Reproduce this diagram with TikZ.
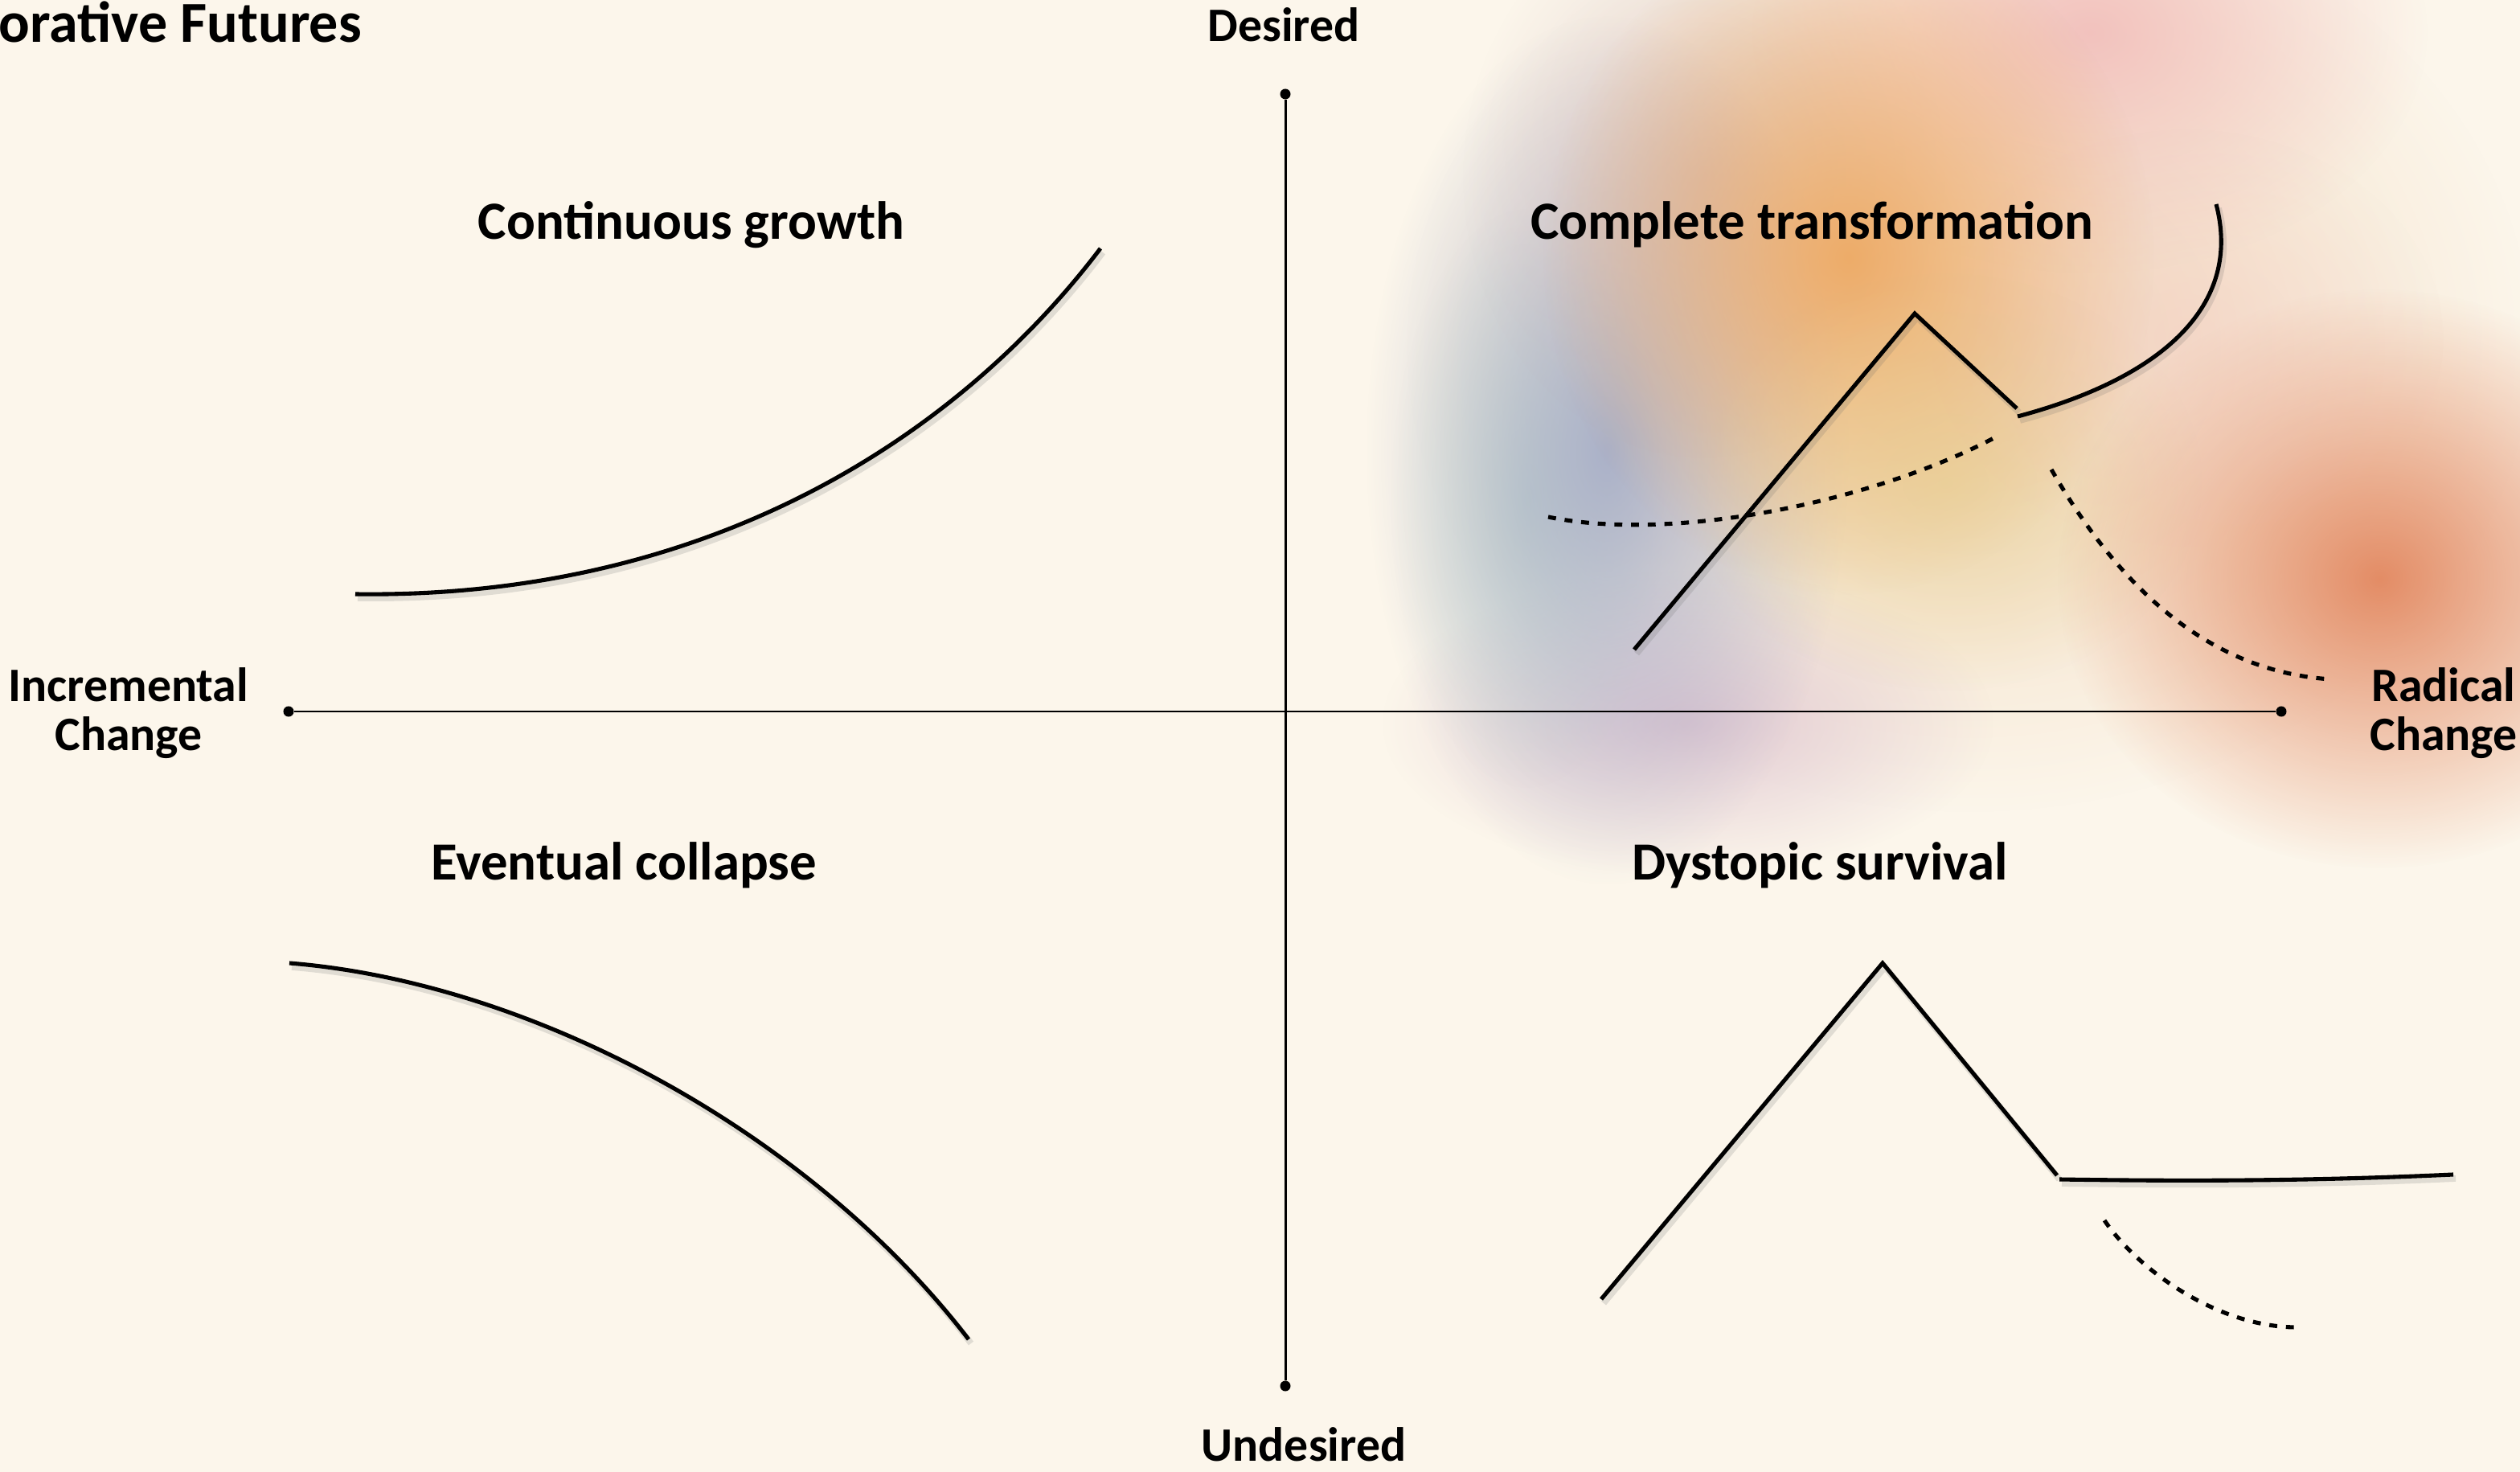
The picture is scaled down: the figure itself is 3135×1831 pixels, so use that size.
\documentclass[tikz,border=0pt]{standalone}
\usepackage{fontspec}
\setmainfont{Carlito}
\usetikzlibrary{fadings}
\definecolor{bg}{RGB}{252,246,235}
\definecolor{bpeach}{RGB}{240,212,180}
\definecolor{bblue}{RGB}{160,168,198}
\definecolor{bgreen}{RGB}{200,220,205}
\definecolor{bmauve}{RGB}{205,180,185}
\definecolor{borange}{RGB}{238,170,100}
\definecolor{byellow}{RGB}{230,205,140}
\definecolor{bpink}{RGB}{242,192,188}
\definecolor{bred}{RGB}{226,135,95}
\definecolor{blilac}{RGB}{222,196,208}
\tikzfading[name=blobfade, inner color=transparent!0, outer color=transparent!100]
\begin{document}
\begin{tikzpicture}[x=0.01cm,y=-0.01cm,
  lbl/.style={font=\fontsize{17}{17.4}\selectfont\bfseries, inner sep=0, align=center},
  qtitle/.style={font=\fontsize{19}{22}\selectfont\bfseries, inner sep=0},
  shadowed/.style={preaction={draw, black!60, opacity=0.18, line width=2.2pt, transform canvas={shift={(3,5)}}}},
  curve/.style={line width=1.45pt, shadowed},
  dashcurve/.style={line width=1.45pt, dash pattern=on 2.8pt off 3.1pt},
  axisline/.style={line width=0.85pt},
  axisdot/.style={circle, fill=black, inner sep=0pt, minimum size=3.7pt},
  blob/.style={path fading=blobfade}]
\useasboundingbox (0,0) rectangle (3135,1831);
\fill[bg] (0,0) rectangle (3135,1831);
% colour cloud
\fill[blob, bpeach, fill opacity=0.9] (2450,430) ellipse (700 and 580);
\fill[blob, blilac, fill opacity=0.9] (2100,900) ellipse (380 and 190);
\fill[blob, bgreen, fill opacity=0.8] (1900,620) ellipse (170 and 360);
\fill[blob, bblue, fill opacity=0.85] (2000,560) ellipse (300 and 540);
\fill[blob, bmauve, fill opacity=0.6] (2120,220) ellipse (300 and 350);
\fill[blob, bpink, fill opacity=0.95] (2600,40) ellipse (420 and 300);
\fill[blob, borange, fill opacity=0.95] (2300,320) ellipse (380 and 420);
\fill[blob, byellow, fill opacity=0.6] (2420,600) ellipse (320 and 260);
\fill[blob, bred, fill opacity=0.95] (2960,720) ellipse (400 and 360);
\fill[blob, bpink, fill opacity=0.35] (2720,420) ellipse (320 and 260);
% axes
\node[axisdot] (top) at (1599,117) {};
\node[axisdot] (bot) at (1599,1724) {};
\node[axisdot] (left) at (359,885) {};
\node[axisdot] (right) at (2838,885) {};
\draw[axisline] (top) -- (bot);
\draw[axisline] (left) -- (right);
% labels
\node[anchor=base west, font=\fontsize{20.5}{24}\selectfont\bfseries, inner sep=0] (title) at (-2,53) {orative Futures};
\node[lbl, anchor=base] (desired) at (1597,52) {Desired};
\node[lbl, anchor=base] (undesired) at (1622,1817) {Undesired};
\node[lbl, anchor=base] (incr) at (160,934) {Incremental\\Change};
\node[lbl, anchor=base] (radical) at (3040,934) {Radical\\Change};
\node[qtitle, anchor=base] (cg) at (860,298) {Continuous growth};
\node[qtitle, anchor=base] (ct) at (2254,298) {Complete transformation};
\node[qtitle, anchor=base] (ec) at (776,1094) {Eventual collapse};
\node[qtitle, anchor=base] (ds) at (2264,1094) {Dystopic survival};
% continuous growth
\coordinate (cg1) at (442,739);
\coordinate (cg2) at (1369,309);
\draw[curve] (cg1) .. controls (880,745) and (1190,545) .. (cg2);
% eventual collapse
\coordinate (ec1) at (360,1198);
\coordinate (ec2) at (1205,1666);
\draw[curve] (ec1) .. controls (660,1222) and (1005,1406) .. (ec2);
% complete transformation
\coordinate (ct1) at (2033,808);
\coordinate (ct2) at (2382,390);
\coordinate (ct3) at (2509,508);
\coordinate (ct4) at (2510,518);
\coordinate (ct5) at (2757,254);
\draw[curve] (ct1) -- (ct2) -- (ct3);
\draw[curve] (ct4) .. controls (2690,470) and (2790,380) .. (ct5);
\coordinate (cd1) at (1926,643);
\coordinate (cd2) at (2484,543);
\draw[dashcurve] (cd1) .. controls (2080,675) and (2330,625) .. (cd2);
\coordinate (cd3) at (2552,584);
\coordinate (cd4) at (2900,845);
\draw[dashcurve] (cd3) .. controls (2630,720) and (2740,835) .. (cd4);
% dystopic survival
\coordinate (ds1) at (1992,1616);
\coordinate (ds2) at (2342,1198);
\coordinate (ds3) at (2559,1462);
\coordinate (ds4) at (2562,1467);
\coordinate (ds5) at (3052,1461);
\draw[curve] (ds1) -- (ds2) -- (ds3);
\draw[curve] (ds4) .. controls (2750,1470) and (2900,1468) .. (ds5);
\coordinate (dd1) at (2618,1518);
\coordinate (dd2) at (2860,1651);
\draw[dashcurve] (dd1) .. controls (2660,1580) and (2760,1652) .. (dd2);
\end{tikzpicture}
\end{document}
